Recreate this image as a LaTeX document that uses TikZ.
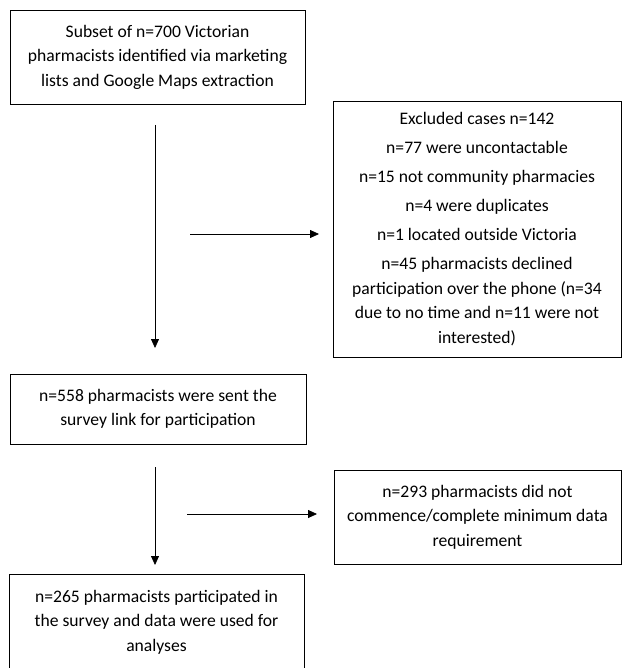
\documentclass[tikz,border=0pt]{standalone}
\usepackage{fontspec}
\setmainfont{Carlito}
\usetikzlibrary{arrows.meta}
\begin{document}
\begin{tikzpicture}[x=1pt,y=-1pt,
  box/.style={draw, line width=0.9pt, align=center, font=\fontsize{17.6}{24.5}\selectfont, inner sep=0pt},
  arr/.style={-{Triangle[length=9pt,width=8pt]}, line width=0.8pt}]
\useasboundingbox (0,0) rectangle (624,668);
\node[box, minimum width=295pt, minimum height=94pt] (b1) at (157.5,57) {Subset of n=700 Victorian\\pharmacists identified via marketing\\lists and Google Maps extraction};
\node[box, minimum width=288pt, minimum height=256pt] (b2) at (477,229) {Excluded cases n=142\\[4.5pt]n=77 were uncontactable\\[4.5pt]n=15 not community pharmacies\\[4.5pt]n=4 were duplicates\\[4.5pt]n=1 located outside Victoria\\[4.5pt]n=45 pharmacists declined\\participation over the phone (n=34\\due to no time and n=11 were not\\interested)};
\node[box, minimum width=296pt, minimum height=70pt] (b3) at (158,409) {n=558 pharmacists were sent the\\survey link for participation};
\node[box, minimum width=287pt, minimum height=94pt] (b4) at (477.5,517) {n=293 pharmacists did not\\commence/complete minimum data\\requirement};
\node[box, minimum width=295pt, minimum height=96pt] (b5) at (156.5,622) {n=265 pharmacists participated in\\the survey and data were used for\\analyses};
\coordinate (a1s) at (155,125);
\coordinate (a1e) at (155,348);
\coordinate (a2s) at (190,234);
\coordinate (a2e) at (319,234);
\coordinate (a3s) at (155,467);
\coordinate (a3e) at (155,565);
\coordinate (a4s) at (187,514);
\coordinate (a4e) at (317,514);
\draw[arr] (a1s) -- (a1e);
\draw[arr] (a2s) -- (a2e);
\draw[arr] (a3s) -- (a3e);
\draw[arr] (a4s) -- (a4e);
\end{tikzpicture}
\end{document}
